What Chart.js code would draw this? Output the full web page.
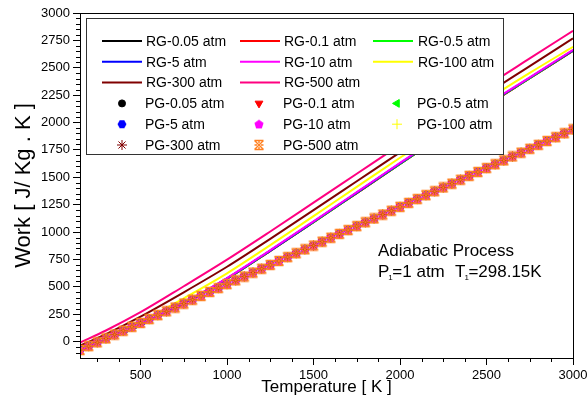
<!DOCTYPE html>
<html>
<head>
<meta charset="utf-8">
<script src="https://cdn.jsdelivr.net/npm/chart.js@4.4.0/dist/chart.umd.min.js"></script>
<style>
  html, body { margin: 0; padding: 0; background: #fff; }
</style>
</head>
<body>
<canvas id="myChart" width="587" height="403"></canvas>
<script>
const rgTemps = [150, 300, 500, 750, 1000, 1250, 1500, 1750, 2000, 2250, 2500, 2750, 3000];
const rg005 = [-83, 13, 149, 350, 574, 828, 1090, 1356, 1622, 1885, 2153, 2404, 2655];
const rg01  = [-83, 13, 149, 350, 574, 828, 1090, 1356, 1622, 1885, 2153, 2404, 2655];
const rg05  = [-83, 13, 149, 350, 575, 829, 1091, 1357, 1623, 1886, 2154, 2405, 2656];
const rg5   = [-82, 14, 151, 352, 577, 831, 1094, 1360, 1627, 1890, 2158, 2409, 2659];
const rg10  = [-80, 16, 153, 355, 580, 835, 1098, 1364, 1631, 1894, 2162, 2413, 2664];
const rg100 = [-65, 31, 178, 395, 623, 880, 1146, 1412, 1678, 1939, 2205, 2453, 2691];
const rg300 = [-37, 68, 228, 450, 683, 938, 1200, 1464, 1728, 1990, 2260, 2515, 2768];
const rg500 = [-10, 101, 268, 505, 748, 1005, 1268, 1532, 1796, 2059, 2330, 2585, 2838];

// perfect gas points (all pressures fall on the same line)
const pgTemps = [150, 200, 250, 300, 350, 400, 450, 500, 550, 600, 650, 700, 750, 800, 850, 900, 950,
  1000, 1050, 1100, 1150, 1200, 1250, 1300, 1350, 1400, 1450, 1500, 1550, 1600, 1650, 1700, 1750,
  1800, 1850, 1900, 1950, 2000, 2050, 2100, 2150, 2200, 2250, 2300, 2350, 2400, 2450, 2500, 2550,
  2600, 2650, 2700, 2750, 2800, 2850, 2900, 2950, 3000];
const pgWork = [-77, -42, -7, 29, 64, 99, 135, 170, 205, 241, 276, 311, 347, 382, 417, 453, 488,
  524, 559, 594, 630, 665, 700, 736, 771, 806, 842, 877, 912, 948, 983, 1018, 1054,
  1089, 1124, 1160, 1195, 1230, 1266, 1301, 1336, 1372, 1407, 1442, 1478, 1513, 1548, 1584, 1619,
  1654, 1690, 1725, 1760, 1796, 1831, 1866, 1902, 1937];

const xTicks = [500, 1000, 1500, 2000, 2500, 3000];
const yTicks = [0, 250, 500, 750, 1000, 1250, 1500, 1750, 2000, 2250, 2500, 2750, 3000];

const font = "'Liberation Sans', Arial, sans-serif";

function pts(xs, ys) {
  return xs.map((x, i) => ({ x: x, y: ys[i] }));
}

// custom marker shapes
function shapeCanvas(size, draw) {
  const c = document.createElement('canvas');
  c.width = size; c.height = size;
  draw(c.getContext('2d'), size);
  return c;
}
function polygon(g, n, r, cx, cy, start) {
  g.beginPath();
  for (let k = 0; k < n; k++) {
    const a = start + k * 2 * Math.PI / n;
    const px = cx + r * Math.cos(a), py = cy + r * Math.sin(a);
    if (k === 0) g.moveTo(px, py); else g.lineTo(px, py);
  }
  g.closePath();
  g.fill();
}
const hexagon = shapeCanvas(10, (g) => { g.fillStyle = '#0000ff'; polygon(g, 6, 4.5, 5, 5, 0); });
const pentagon = shapeCanvas(10, (g) => { g.fillStyle = '#ff00ff'; polygon(g, 5, 4.8, 5, 5.3, -Math.PI / 2); });
const hourglass = shapeCanvas(12, (g) => {
  g.strokeStyle = '#ff8020';
  g.lineWidth = 1.4;
  g.beginPath();
  g.moveTo(1.5, 1.5); g.lineTo(10.5, 10.5);
  g.moveTo(10.5, 1.5); g.lineTo(1.5, 10.5);
  g.moveTo(1.5, 1.5); g.lineTo(10.5, 1.5);
  g.moveTo(1.5, 10.5); g.lineTo(10.5, 10.5);
  g.moveTo(6, 1.5); g.lineTo(6, 4);
  g.moveTo(6, 8); g.lineTo(6, 10.5);
  g.moveTo(1.5, 6); g.lineTo(4, 6);
  g.moveTo(8, 6); g.lineTo(10.5, 6);
  g.stroke();
});

function rgSet(label, values, color) {
  return {
    label: label, data: pts(rgTemps, values), borderColor: color, backgroundColor: color,
    borderWidth: 2, pointRadius: 0, tension: 0.4, cubicInterpolationMode: 'monotone', kind: 'line'
  };
}
function pgSet(label, color, style, radius, rotation) {
  return {
    label: label, data: pts(pgTemps, pgWork), borderColor: color, backgroundColor: color,
    showLine: false, pointStyle: style, pointRadius: radius, pointRotation: rotation || 0,
    pointBorderWidth: 1, kind: 'point'
  };
}

const datasets = [
  rgSet('RG-0.05 atm', rg005, '#000000'),
  rgSet('RG-0.1 atm', rg01, '#ff0000'),
  rgSet('RG-0.5 atm', rg05, '#00ff00'),
  rgSet('RG-5 atm', rg5, '#0000ff'),
  rgSet('RG-10 atm', rg10, '#ff00ff'),
  rgSet('RG-100 atm', rg100, '#ffff00'),
  rgSet('RG-300 atm', rg300, '#800000'),
  rgSet('RG-500 atm', rg500, '#ff0080'),
  pgSet('PG-0.05 atm', '#000000', 'circle', 3.5),
  pgSet('PG-0.1 atm', '#ff0000', 'triangle', 4.5, 180),
  pgSet('PG-0.5 atm', '#00ff00', 'triangle', 4.5, -90),
  pgSet('PG-5 atm', '#0000ff', hexagon, 5),
  pgSet('PG-10 atm', '#ff00ff', pentagon, 5),
  pgSet('PG-100 atm', '#ffff00', 'cross', 5),
  pgSet('PG-300 atm', '#800000', 'star', 5),
  pgSet('PG-500 atm', '#ff8020', hourglass, 6)
];
// later datasets are drawn on top
datasets.forEach((d, i) => { d.order = datasets.length - i; });

// frame, minor ticks, legend box and annotation
const extras = {
  id: 'extras',
  afterDatasetsDraw(chart) {
    const ctx = chart.ctx;
    const a = chart.chartArea;
    const xs = chart.scales.x, ys = chart.scales.y;
    ctx.save();
    ctx.strokeStyle = '#000';
    ctx.lineWidth = 1;
    ctx.strokeRect(a.left + 0.5, a.top + 0.5, a.right - a.left, a.bottom - a.top);

    ctx.beginPath();
    for (let t = 250; t < 3000; t += 125) {
      if (t % 500 === 0) continue;
      const px = Math.round(xs.getPixelForValue(t)) + 0.5;
      ctx.moveTo(px, a.bottom); ctx.lineTo(px, a.bottom + 4);
    }
    for (let w = -100; w < 3000; w += 50) {
      if (w % 250 === 0) continue;
      const py = Math.round(ys.getPixelForValue(w)) + 0.5;
      ctx.moveTo(a.left - 4, py); ctx.lineTo(a.left, py);
    }
    ctx.stroke();

    // legend
    const bx = a.left + 6, by = a.top + 5, bw = 417, bh = 136;
    ctx.fillStyle = '#fff';
    ctx.fillRect(bx, by, bw, bh);
    ctx.strokeStyle = '#333';
    ctx.strokeRect(bx + 0.5, by + 0.5, bw, bh);
    ctx.font = '14px ' + font;
    ctx.textBaseline = 'middle';
    ctx.textAlign = 'left';
    const lineX = [bx + 16, bx + 154, bx + 287];
    const markX = [bx + 36, bx + 173, bx + 311];
    const textX = [bx + 59, bx + 197, bx + 331];
    chart.data.datasets.forEach((d, i) => {
      const j = d.kind === 'line' ? i : i - 8;
      const row = (d.kind === 'line' ? 0 : 3) + Math.floor(j / 3);
      const col = j % 3;
      const y = by + 23 + row * 20.8;
      if (d.kind === 'line') {
        ctx.strokeStyle = d.borderColor;
        ctx.lineWidth = 2;
        ctx.beginPath();
        ctx.moveTo(lineX[col], y); ctx.lineTo(lineX[col] + 40, y);
        ctx.stroke();
      } else {
        ctx.fillStyle = d.backgroundColor;
        ctx.strokeStyle = d.borderColor;
        ctx.lineWidth = 1;
        Chart.helpers.drawPoint(ctx, { pointStyle: d.pointStyle, rotation: d.pointRotation, radius: d.pointRadius, borderWidth: 1 }, markX[col], y);
      }
      ctx.fillStyle = '#000';
      ctx.fillText(d.label, d.kind === 'line' ? textX[col] + 1 : textX[col], y + 1);
    });

    // annotation
    const ax = a.left + 298, ay = a.top + 238;
    ctx.fillStyle = '#000';
    ctx.font = '17px ' + font;
    ctx.fillText('Adiabatic Process', ax, ay);
    const y2 = ay + 21;
    ctx.fillText('P', ax, y2);
    let cx = ax + ctx.measureText('P').width;
    ctx.font = '8px ' + font;
    ctx.fillText('1', cx - 1, y2 + 6);
    ctx.font = '17px ' + font;
    ctx.fillText('=1 atm', cx + 3, y2);
    const tx = ax + 77;
    ctx.fillText('T', tx, y2);
    cx = tx + ctx.measureText('T').width;
    ctx.font = '8px ' + font;
    ctx.fillText('1', cx - 1, y2 + 6);
    ctx.font = '17px ' + font;
    ctx.fillText('=298.15K', cx + 3, y2);
    ctx.restore();
  }
};

const config = {
  type: 'line',
  data: { datasets: datasets },
  options: {
    responsive: false,
    animation: false,
    layout: { padding: { top: 13, right: 14 } },
    plugins: { legend: { display: false }, tooltip: { enabled: false } },
    scales: {
      x: {
        type: 'linear', min: 150, max: 3000,
        afterBuildTicks: s => { s.ticks = xTicks.map(v => ({ value: v })); },
        afterFit: s => { s.height = 45; s.paddingRight = 0; s.paddingLeft = 0; },
        grid: { drawOnChartArea: false, tickLength: 7, color: '#000' },
        border: { color: '#000' },
        ticks: { color: '#000', font: { size: 13, family: font }, padding: 3, maxRotation: 0, callback: v => String(v) },
        title: { display: true, text: 'Temperature [ K ]', color: '#000', font: { size: 17, family: font }, padding: { top: 0, bottom: 5 } }
      },
      y: {
        type: 'linear', min: -150, max: 3000,
        afterBuildTicks: s => { s.ticks = yTicks.map(v => ({ value: v })); },
        afterFit: s => { s.width = 80; },
        grid: { drawOnChartArea: false, tickLength: 7, color: '#000' },
        border: { color: '#000' },
        ticks: { color: '#000', font: { size: 13, family: font }, padding: 3, callback: v => String(v) },
        title: { display: true, text: 'Work [ J/ Kg . K ]', color: '#000', font: { size: 22, family: font }, padding: { top: 11, bottom: 0 } }
      }
    }
  },
  plugins: [extras]
};

const ctx = document.getElementById('myChart').getContext('2d');
const chart = new Chart(ctx, config);
</script>
</body>
</html>
